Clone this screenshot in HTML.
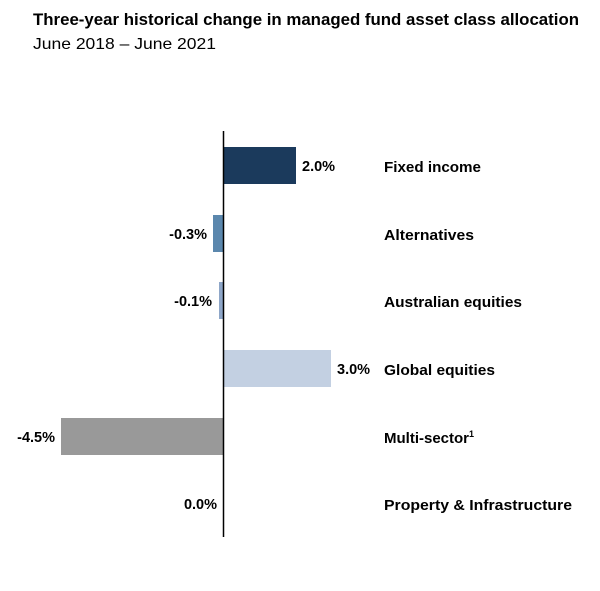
<!DOCTYPE html>
<html><head><style>
body{margin:0;background:#fff;}
svg{display:block;}
text{font-family:"Liberation Sans",Arial,sans-serif;fill:#000;}
.b{font-weight:bold;font-size:14.5px;}
.c{font-weight:bold;font-size:15px;}
</style></head><body>
<svg width="600" height="591" xmlns="http://www.w3.org/2000/svg">
<rect width="600" height="591" fill="#fff"/>
<text x="33" y="25" font-weight="bold" font-size="16.8" textLength="546" lengthAdjust="spacingAndGlyphs">Three-year historical change in managed fund asset class allocation</text>
<text x="33" y="49" font-size="16" textLength="183" lengthAdjust="spacingAndGlyphs">June 2018 – June 2021</text>
<rect x="224" y="147" width="72" height="37" fill="#1b3a5c"/>
<rect x="213" y="215" width="10" height="37" fill="#5b87ad"/>
<rect x="219" y="282" width="4" height="37" fill="#8ea6c8"/>
<rect x="224" y="350" width="107" height="37" fill="#c3d0e2"/>
<rect x="61" y="418" width="162" height="37" fill="#999"/>
<line x1="223.5" y1="131" x2="223.5" y2="537" stroke="#000" stroke-width="1.5"/>
<text class="b" x="302" y="171">2.0%</text>
<text class="b" x="207" y="239" text-anchor="end">-0.3%</text>
<text class="b" x="212" y="306" text-anchor="end">-0.1%</text>
<text class="b" x="337" y="374">3.0%</text>
<text class="b" x="55" y="442" text-anchor="end">-4.5%</text>
<text class="b" x="217" y="509" text-anchor="end">0.0%</text>
<text class="c" x="384" y="172" textLength="97" lengthAdjust="spacingAndGlyphs">Fixed income</text>
<text class="c" x="384" y="240" textLength="90" lengthAdjust="spacingAndGlyphs">Alternatives</text>
<text class="c" x="384" y="307" textLength="138" lengthAdjust="spacingAndGlyphs">Australian equities</text>
<text class="c" x="384" y="375" textLength="111" lengthAdjust="spacingAndGlyphs">Global equities</text>
<text class="c" x="384" y="443">Multi-sector<tspan font-size="9" dy="-6">1</tspan></text>
<text class="c" x="384" y="510" textLength="188" lengthAdjust="spacingAndGlyphs">Property &amp; Infrastructure</text>
</svg>
</body></html>
